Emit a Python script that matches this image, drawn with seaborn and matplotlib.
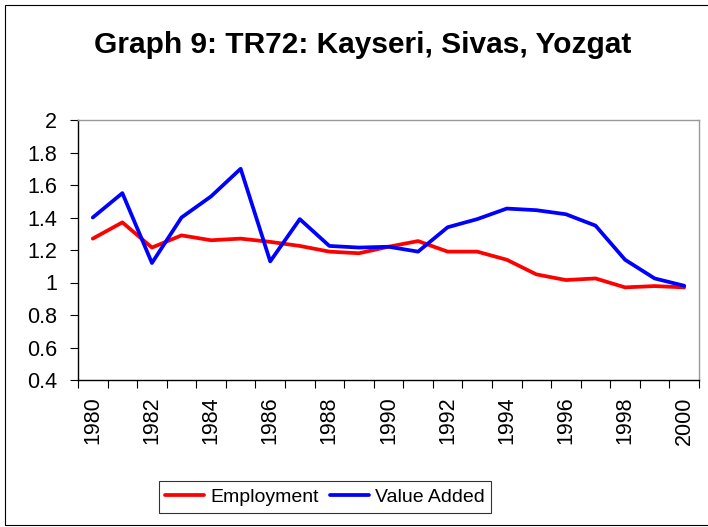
#! /usr/bin/env python
import numpy as np
import pandas as pd
import matplotlib.pyplot as plt
plt.switch_backend('agg')
from matplotlib.patches import Rectangle
from matplotlib.ticker import FormatStrFormatter
import seaborn as sns

### chart data
years = list(range(1980, 2001))
employment = [1.27, 1.37, 1.215, 1.29, 1.26, 1.27, 1.25, 1.225, 1.19, 1.18, 1.22,
              1.255, 1.19, 1.19, 1.14, 1.05, 1.015, 1.025, 0.97, 0.978, 0.97]
value_added = [1.40, 1.55, 1.12, 1.40, 1.53, 1.70, 1.13, 1.39, 1.225, 1.215, 1.22,
               1.19, 1.34, 1.39, 1.455, 1.445, 1.42, 1.35, 1.14, 1.025, 0.98]
series_names = ["Employment", "Value Added"]
y_ticks = [0.4, 0.6, 0.8, 1.0, 1.2, 1.4, 1.6, 1.8, 2.0]
title = "Graph 9: TR72: Kayseri, Sivas, Yozgat"

# long table for seaborn, category index used as x
df = pd.DataFrame({
    "pos": list(range(len(years))) * 2,
    "value": employment + value_added,
    "series": [series_names[0]] * len(years) + [series_names[1]] * len(years),
})

sns.set_style("white")
plt.rcParams['font.family'] = ['Liberation Sans', 'DejaVu Sans']
# plain black text like the original spreadsheet chart
for key in ['text.color', 'axes.labelcolor', 'xtick.color', 'ytick.color']:
    plt.rcParams[key] = 'black'

fig = plt.figure(figsize=(7.08, 5.27), dpi=100)
ax = fig.add_axes([78 / 708, 1 - 380 / 527, (699 - 78) / 708, 260 / 527])

sns.lineplot(data=df, x="pos", y="value", hue="series", hue_order=series_names,
             palette=["#ff0000", "#0000ff"], linewidth=2.7, ax=ax, legend=True)

### axes like an Excel category chart
ax.set_xlim(-0.5, len(years) - 0.5)
ax.set_ylim(0.4, 2.0)
ax.set_yticks(y_ticks)
ax.yaxis.set_major_formatter(FormatStrFormatter('%g'))
ax.set_xticks(range(0, len(years), 2))
ax.set_xticklabels([str(y) for y in years[::2]], rotation=90)
ax.set_xticks(np.arange(-0.5, len(years), 1), minor=True)
ax.tick_params(axis='x', which='major', length=0, pad=12, labelsize=15.5)
ax.tick_params(axis='x', which='minor', length=6, width=0.8, color='black', direction='out', bottom=True)
ax.tick_params(axis='y', length=6, width=0.8, color='black', direction='out', left=True, pad=9, labelsize=15.5)
ax.set_xlabel("")
ax.set_ylabel("")
ax.grid(False)

for side in ['left', 'bottom']:
    ax.spines[side].set_color('black')
    ax.spines[side].set_linewidth(1.0)
for side in ['top', 'right']:
    ax.spines[side].set_color('#999999')
    ax.spines[side].set_linewidth(1.0)

fig.text(0.512, 1 - 45 / 527, title, ha='center', va='center', fontsize=21.5,
         fontweight='bold', color='black')

handles, labels = ax.get_legend_handles_labels()
ax.legend_.remove()
leg = fig.legend(handles, labels, loc='center', bbox_to_anchor=(325 / 708, 1 - 497 / 527),
                 ncol=2, fontsize=14, frameon=True, fancybox=False, handlelength=2.0,
                 handletextpad=0.3, columnspacing=0.6, borderpad=0.35)
leg.get_frame().set_edgecolor('black')
leg.get_frame().set_linewidth(0.8)
for line in leg.get_lines():
    line.set_linewidth(2.7)

# outer chart border
fig.patches.append(Rectangle((5 / 708, 2 / 527), 1.0, 1 - 7 / 527, transform=fig.transFigure,
                             fill=False, edgecolor='black', linewidth=0.8, clip_on=False))

plt.savefig("out.png", dpi=100)
plt.close(fig)
